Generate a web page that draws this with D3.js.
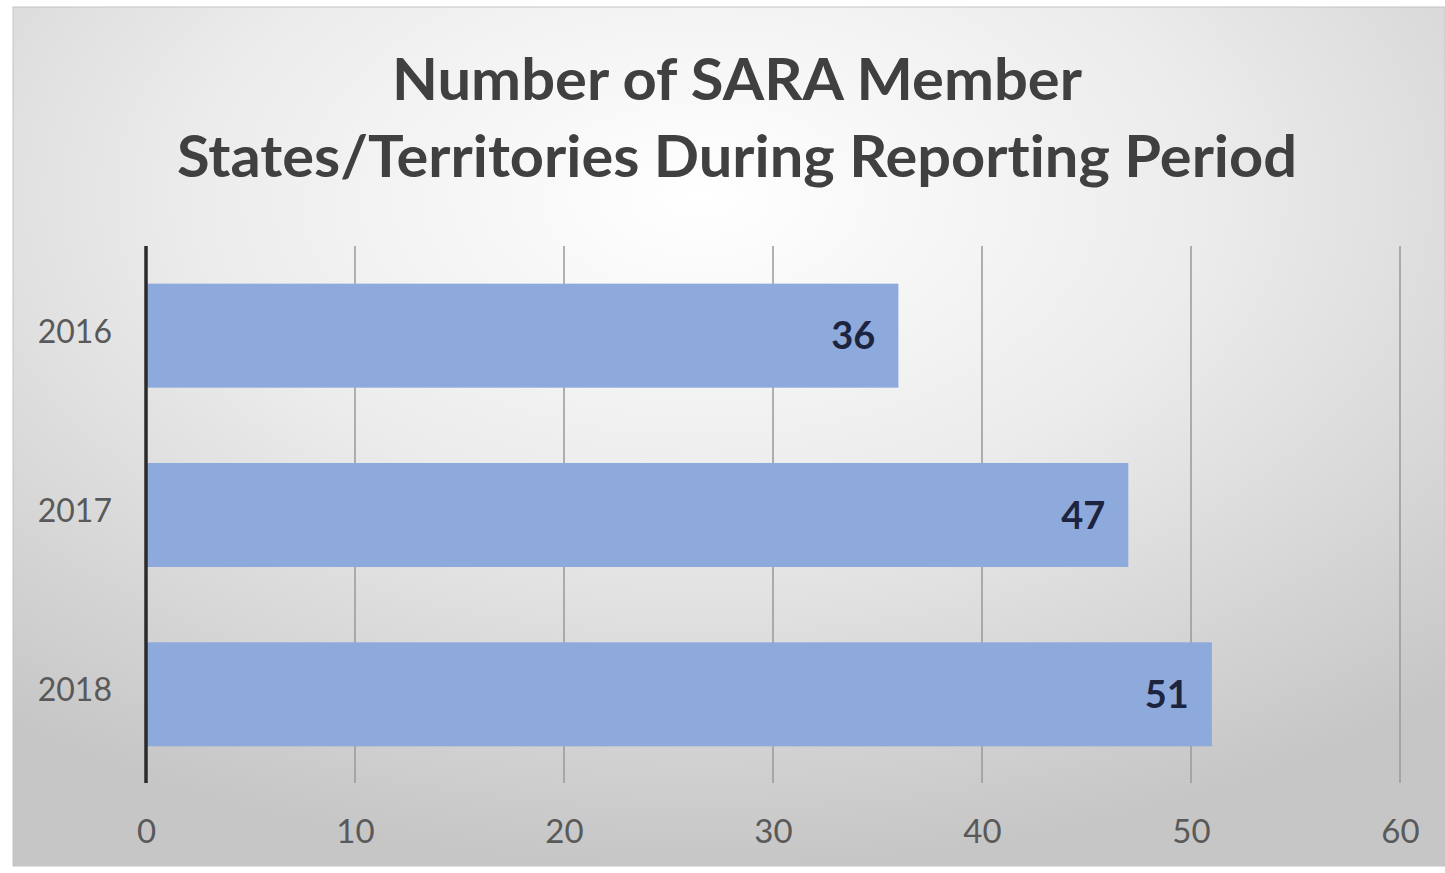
<!DOCTYPE html>
<html>
<head>
<meta charset="utf-8">
<script src="https://cdn.jsdelivr.net/npm/d3@7"></script>
<style>
  body { margin: 0; background: #fff; }
  svg { display: block; }
  text { font-variant-ligatures: none; }
</style>
</head>
<body>
<div id="chart"></div>
<script>
// data
var years = ["2016", "2017", "2018"];
var members = [36, 47, 51];
var xTicks = [0, 10, 20, 30, 40, 50, 60];
var titleLines = ["Number of SARA Member", "States/Territories During Reporting Period"];

var W = 1445, H = 873;
var margin = {top: 246, right: 45, bottom: 89, left: 146};

var svg = d3.select("#chart").append("svg")
    .attr("width", W)
    .attr("height", H);

// radial background like the office chart style
var defs = svg.append("defs");
var grad = defs.append("radialGradient")
    .attr("id", "bg")
    .attr("cx", "48%").attr("cy", "22%")
    .attr("r", "78%");
grad.append("stop").attr("offset", "0%").attr("stop-color", "#ffffff");
grad.append("stop").attr("offset", "45%").attr("stop-color", "#ececec");
grad.append("stop").attr("offset", "100%").attr("stop-color", "#c6c6c6");

svg.append("rect")
    .attr("x", 13).attr("y", 7)
    .attr("width", W - 13).attr("height", 859)
    .attr("fill", "url(#bg)")
    .attr("stroke", "#c4c4c4")
    .attr("stroke-width", 1);

var font = "Lato, 'Open Sans', 'DejaVu Sans', sans-serif";

// title
var titleY = [100, 177], titleW = [690, 1120];
svg.selectAll(".title")
    .data(titleLines)
  .enter().append("text")
    .attr("class", "title")
    .attr("x", 737)
    .attr("y", function(d, i) { return titleY[i]; })
    .attr("text-anchor", "middle")
    .attr("textLength", function(d, i) { return titleW[i]; })
    .attr("lengthAdjust", "spacingAndGlyphs")
    .style("font-family", font)
    .style("font-weight", "bold")
    .style("font-size", "58px")
    .style("fill", "#404040")
    .text(function(d) { return d; });

var x = d3.scaleLinear().domain([0, 60]).range([margin.left, W - margin.right]);
var y = d3.scaleBand().domain(years).range([margin.top, H - margin.bottom])
    .paddingInner(0.42).paddingOuter(0.21);

var data = years.map(function(d, i) { return {year: d, value: members[i]}; });

// vertical gridlines
svg.append("g")
    .attr("class", "grid")
    .selectAll("line")
    .data(xTicks.slice(1))
  .enter().append("line")
    .attr("x1", function(d) { return x(d); })
    .attr("x2", function(d) { return x(d); })
    .attr("y1", margin.top)
    .attr("y2", H - margin.bottom - 1)
    .attr("stroke", "#999999")
    .attr("stroke-width", 1.5);

// bars
svg.selectAll(".bar")
    .data(data)
  .enter().append("rect")
    .attr("class", "bar")
    .attr("x", x(0))
    .attr("y", function(d) { return y(d.year); })
    .attr("width", function(d) { return x(d.value) - x(0); })
    .attr("height", y.bandwidth())
    .attr("fill", "#8eaadc");

// value labels
svg.selectAll(".label")
    .data(data)
  .enter().append("text")
    .attr("class", "label")
    .attr("x", function(d) { return x(d.value) - 23; })
    .attr("y", function(d) { return y(d.year) + y.bandwidth() / 2; })
    .attr("dy", "0.36em")
    .attr("text-anchor", "end")
    .style("font-family", font)
    .style("font-weight", "bold")
    .style("font-size", "38px")
    .style("fill", "#1d2440")
    .text(function(d) { return d.value; });

// x axis labels (no line)
var xAxis = svg.append("g")
    .attr("transform", "translate(0," + (H - margin.bottom) + ")")
    .call(d3.axisBottom(x).tickValues(xTicks).tickSize(0).tickPadding(36));
xAxis.select(".domain").remove();
xAxis.selectAll("text")
    .style("font-family", font)
    .style("font-size", "33px")
    .style("fill", "#595959");

// y axis
var yAxis = svg.append("g")
    .attr("transform", "translate(" + margin.left + ",0)")
    .call(d3.axisLeft(y).tickSize(0).tickPadding(34));
yAxis.select(".domain").remove();
yAxis.selectAll("text")
    .attr("dy", "0.22em")
    .style("font-family", font)
    .style("font-size", "32px")
    .style("fill", "#595959");

svg.append("line")
    .attr("x1", x(0)).attr("x2", x(0))
    .attr("y1", margin.top).attr("y2", H - margin.bottom - 1)
    .attr("stroke", "#2b2b2b")
    .attr("stroke-width", 3.5);
</script>
</body>
</html>
